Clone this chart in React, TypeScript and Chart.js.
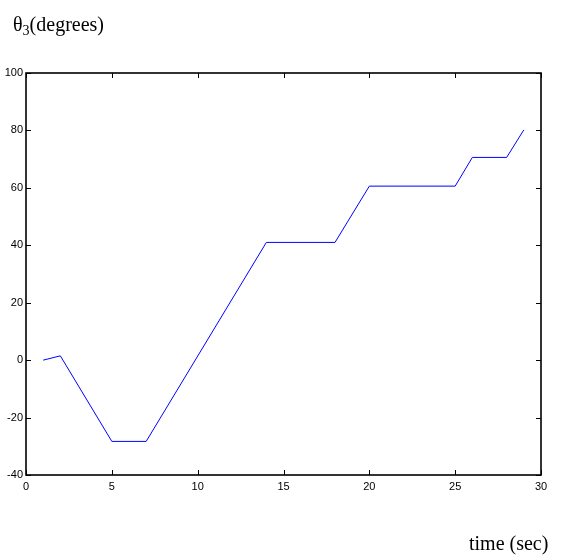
import React, { useEffect, useRef } from "react";
import { Chart, registerables } from "chart.js";

Chart.register(...registerables);

const timeValues = [1, 2, 5, 7, 14, 18, 20, 25, 26, 28, 29];
const theta3Values = [0, 1.5, -28.3, -28.3, 41, 41, 60.6, 60.6, 70.6, 70.6, 80.2];
const xTickValues = [0, 5, 10, 15, 20, 25, 30];
const yTickValues = [-40, -20, 0, 20, 40, 60, 80, 100];

const boxTicksPlugin = {
  id: "boxTicks",
  afterDraw(chart: any) {
    const { ctx, chartArea } = chart;
    const xs = chart.scales.x;
    const ys = chart.scales.y;
    const L = Math.round(chartArea.left);
    const R = Math.round(chartArea.right);
    const T = Math.round(chartArea.top);
    const B = Math.round(chartArea.bottom);
    const len = 5;
    ctx.save();
    ctx.strokeStyle = "#000";
    ctx.lineWidth = 1;
    ctx.beginPath();
    xTickValues.forEach((v) => {
      const px = Math.round(xs.getPixelForValue(v)) + 0.5;
      ctx.moveTo(px, B);
      ctx.lineTo(px, B - len);
      ctx.moveTo(px, T);
      ctx.lineTo(px, T + len);
    });
    yTickValues.forEach((v) => {
      const py = Math.round(ys.getPixelForValue(v)) + 0.5;
      ctx.moveTo(L, py);
      ctx.lineTo(L + len, py);
      ctx.moveTo(R, py);
      ctx.lineTo(R - len, py);
    });
    ctx.stroke();
    ctx.lineWidth = 1.6;
    ctx.strokeRect(L, T, R - L, B - T);
    ctx.restore();
  },
};

export default function App() {
  const ref = useRef<HTMLCanvasElement | null>(null);
  useEffect(() => {
    if (!ref.current) return;
    const chart = new Chart(ref.current, {
      type: "line",
      data: {
        datasets: [
          {
            data: timeValues.map((t, i) => ({ x: t, y: theta3Values[i] })),
            borderColor: "#0000ff",
            borderWidth: 1,
            pointRadius: 0,
            fill: false,
            tension: 0,
          },
        ],
      },
      options: {
        animation: false,
        responsive: false,
        maintainAspectRatio: false,
        layout: { padding: { left: 0, top: 73, right: 33, bottom: 65 } },
        plugins: { legend: { display: false }, tooltip: { enabled: false } },
        scales: {
          x: {
            type: "linear",
            min: 0,
            max: 30,
            grid: { display: false, drawTicks: false },
            border: { display: false },
            afterBuildTicks: (s: any) => {
              s.ticks = xTickValues.map((v) => ({ value: v }));
            },
            afterFit: (s: any) => {
              s.height = 20;
            },
            ticks: {
              padding: 5,
              color: "#000",
              font: { family: "'Liberation Sans', Arial, sans-serif", size: 11 },
            },
          },
          y: {
            type: "linear",
            min: -40,
            max: 100,
            grid: { display: false, drawTicks: false },
            border: { display: false },
            afterBuildTicks: (s: any) => {
              s.ticks = yTickValues.map((v) => ({ value: v }));
            },
            afterFit: (s: any) => {
              s.width = 26;
            },
            ticks: {
              padding: 3,
              color: "#000",
              font: { family: "'Liberation Sans', Arial, sans-serif", size: 11 },
            },
          },
        },
      },
      plugins: [boxTicksPlugin],
    });
    return () => chart.destroy();
  }, []);

  return (
    <div style={{ position: "fixed", left: 0, top: 0, width: 574, height: 560, background: "#fff" }}>
      <canvas ref={ref} width={574} height={560} style={{ position: "absolute", left: 0, top: 0 }} />
      <div
        style={{
          position: "absolute",
          left: 13,
          top: 12,
          fontFamily: "'Liberation Serif', 'Times New Roman', serif",
          fontSize: 20,
          lineHeight: "24px",
          whiteSpace: "nowrap",
          color: "#000",
        }}
      >
        θ<sub style={{ fontSize: 14, verticalAlign: "-4px", lineHeight: 0 }}>3</sub>(degrees)
      </div>
      <div
        style={{
          position: "absolute",
          left: 469,
          top: 531,
          fontFamily: "'Liberation Serif', 'Times New Roman', serif",
          fontSize: 20,
          lineHeight: "24px",
          whiteSpace: "nowrap",
          color: "#000",
        }}
      >
        time (sec)
      </div>
    </div>
  );
}
